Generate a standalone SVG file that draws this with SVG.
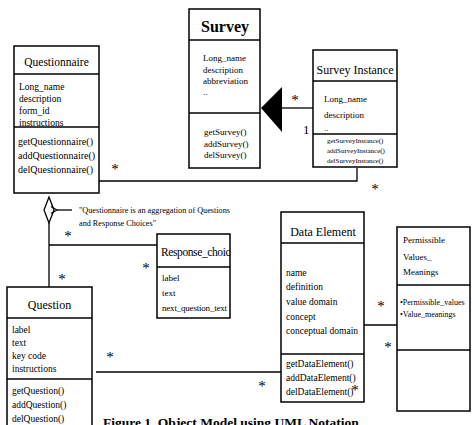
<svg xmlns="http://www.w3.org/2000/svg" width="472" height="425" viewBox="0 0 472 425">
<style>
.box{fill:#fff;stroke:#000;stroke-width:1.5}
.div{stroke:#000;stroke-width:1.3}
.ln{fill:none;stroke:#000;stroke-width:1.3}
text{font-family:"Liberation Serif","Times New Roman",serif;fill:#000}
.t{font-size:12px}
.a{font-size:9.5px}
.s{font-size:9px}
.xs{font-size:7px}
.st{font-size:15px;text-anchor:middle}
</style>
<defs>
<marker id="ah" markerWidth="8" markerHeight="8" refX="1" refY="4" orient="auto" markerUnits="userSpaceOnUse">
<path d="M7,0.5 L1,4 L7,7.5" fill="none" stroke="#000" stroke-width="1.2"/>
</marker>
</defs>

<g id="connectors">
<polyline class="ln" points="99,181 357,181 357,168"/>
<polygon points="261,108 282,87 282,132" fill="#000"/>
<line class="ln" x1="282" y1="108" x2="313" y2="108"/>
<polygon points="49,197 54,210 49,223 44,210" fill="#fff" stroke="#000" stroke-width="1.3"/>
<line class="ln" x1="49" y1="223" x2="49" y2="287"/>
<line class="ln" x1="49" y1="245" x2="157" y2="245"/>
<line class="ln" x1="72" y1="210" x2="57" y2="210" marker-end="url(#ah)"/>
<line class="ln" x1="96" y1="372" x2="281" y2="372"/>
<line class="ln" x1="364" y1="325" x2="397" y2="325"/>
<text class="st" x="115" y="174">*</text>
<text class="st" x="375" y="194">*</text>
<text class="st" x="295" y="105">*</text>
<text x="303" y="134" style="font-size:13px">1</text>
<text class="st" x="68" y="241">*</text>
<text class="st" x="62" y="284">*</text>
<text class="st" x="146" y="273">*</text>
<text class="st" x="110" y="362">*</text>
<text class="st" x="262" y="391">*</text>
<text class="st" x="381" y="311">*</text>
<text class="st" x="388" y="352">*</text>
<text x="79" y="213" style="font-size:8.2px">"Questionnaire is an aggregation of Questions</text>
<text x="79" y="226" style="font-size:8.2px">and Response Choices"</text>
</g>

<g id="survey">
<rect class="box" x="189" y="9" width="71" height="159"/>
<line class="div" x1="189" y1="40" x2="260" y2="40"/>
<line class="div" x1="189" y1="113" x2="260" y2="113"/>
<text x="225" y="32" style="font-size:16px;font-weight:bold;text-anchor:middle">Survey</text>
<text class="s" x="203" y="61">Long_name</text>
<text class="s" x="203" y="73">description</text>
<text class="s" x="203" y="84">abbreviation</text>
<text class="s" x="203" y="95">..</text>
<text class="s" x="204" y="135">getSurvey()</text>
<text class="s" x="204" y="147">addSurvey()</text>
<text class="s" x="204" y="158">delSurvey()</text>
</g>

<g id="survey-instance">
<rect class="box" x="313" y="50" width="84" height="117"/>
<line class="div" x1="313" y1="81" x2="397" y2="81"/>
<line class="div" x1="313" y1="134" x2="397" y2="134"/>
<text x="355" y="74" style="font-size:12px;text-anchor:middle">Survey Instance</text>
<text class="s" x="324" y="102">Long_name</text>
<text class="s" x="324" y="118">description</text>
<text class="s" x="324" y="131">..</text>
<text class="xs" x="327" y="143">getSurveyInstance()</text>
<text class="xs" x="327" y="153">addSurveyInstance()</text>
<text class="xs" x="327" y="163">delSurveyInstance()</text>
</g>

<g id="questionnaire">
<rect class="box" x="14" y="46" width="85" height="147"/>
<line class="div" x1="14" y1="74" x2="99" y2="74"/>
<line class="div" x1="14" y1="127" x2="99" y2="127"/>
<text x="56.5" y="66" style="font-size:11.5px;text-anchor:middle">Questionnaire</text>
<text class="a" x="19" y="90">Long_name</text>
<text class="a" x="19" y="102">description</text>
<text class="a" x="19" y="114">form_id</text>
<text class="a" x="19" y="126">instructions</text>
<text x="18" y="145" style="font-size:10px">getQuestionnaire()</text>
<text x="18" y="159" style="font-size:10px">addQuestionnaire()</text>
<text x="18" y="173" style="font-size:10px">delQuestionnaire()</text>
</g>

<g id="response-choice">
<rect class="box" x="157" y="234" width="73" height="84"/>
<line class="div" x1="157" y1="267" x2="230" y2="267"/>
<svg x="157" y="234" width="73" height="84" overflow="hidden">
<text x="4" y="22" style="font-size:11.5px;letter-spacing:-0.4px">Response_choice</text>
</svg>
<text class="s" x="162" y="281">label</text>
<text class="s" x="162" y="296">text</text>
<text class="s" x="162" y="311" style="letter-spacing:-0.2px">next_question_text</text>
</g>

<g id="question">
<rect class="box" x="7" y="287" width="85" height="145"/>
<line class="div" x1="7" y1="318" x2="92" y2="318"/>
<line class="div" x1="7" y1="379" x2="92" y2="379"/>
<text x="49.5" y="309" style="font-size:12px;text-anchor:middle">Question</text>
<text class="a" x="12" y="333">label</text>
<text class="a" x="12" y="346">text</text>
<text class="a" x="12" y="359">key code</text>
<text class="a" x="12" y="372">instructions</text>
<text class="a" x="12" y="394">getQuestion()</text>
<text class="a" x="12" y="408">addQuestion()</text>
<text class="a" x="12" y="422">delQuestion()</text>
</g>

<g id="data-element">
<rect class="box" x="281" y="212" width="83" height="190"/>
<line class="div" x1="281" y1="243" x2="364" y2="243"/>
<line class="div" x1="281" y1="354" x2="364" y2="354"/>
<text x="323" y="236" style="font-size:12px;text-anchor:middle">Data Element</text>
<text class="a" x="286" y="276">name</text>
<text class="a" x="286" y="290">definition</text>
<text class="a" x="286" y="305">value domain</text>
<text class="a" x="286" y="320">concept</text>
<text class="a" x="286" y="334">conceptual domain</text>
<text class="a" x="286" y="367">getDataElement()</text>
<text class="a" x="286" y="381">addDataElement()</text>
<text class="a" x="286" y="395">delDataElement()</text>
<text class="st" x="355" y="395">*</text>
</g>

<g id="permissible-values">
<rect class="box" x="397" y="227" width="73" height="184"/>
<line class="div" x1="397" y1="285" x2="470" y2="285"/>
<line class="div" x1="397" y1="350" x2="470" y2="350"/>
<text class="s" x="403" y="243">Permissible</text>
<text class="s" x="403" y="260">Values_</text>
<text class="s" x="403" y="275">Meanings</text>
<svg x="397" y="285" width="73" height="65" overflow="hidden">
<text x="3" y="20" style="font-size:8px">•Permissible_values</text>
<text x="3" y="32" style="font-size:8px">•Value_meanings</text>
</svg>
</g>

<text x="103" y="427" style="font-size:13.5px;font-weight:bold">Figure 1. Object Model using UML Notation</text>
</svg>
